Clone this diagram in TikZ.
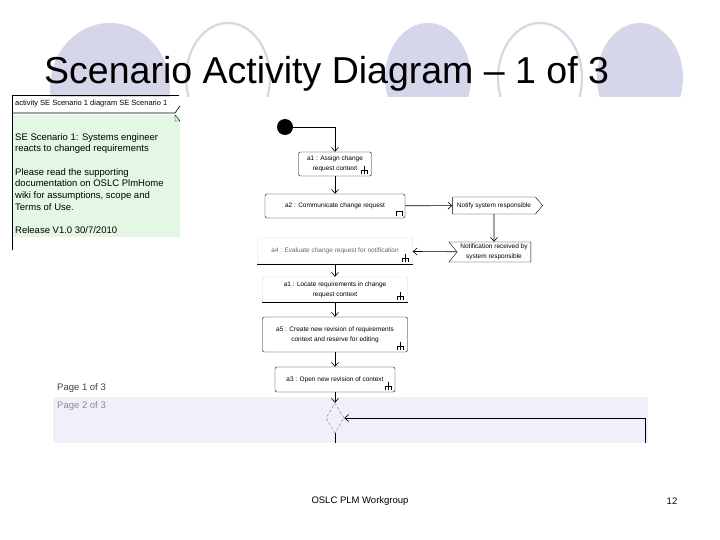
\documentclass[tikz,border=0pt]{standalone}
\usepackage{fontspec}
\setmainfont{Liberation Sans}
\usetikzlibrary{arrows.meta, shapes.geometric, shapes.symbols}
\definecolor{lav}{RGB}{214, 214, 235}
\definecolor{lavring}{RGB}{214, 214, 228}
\definecolor{band}{RGB}{240, 240, 250}
\definecolor{notegreen}{RGB}{228, 247, 228}
\definecolor{pagedark}{gray}{0.25}
\definecolor{pagelight}{gray}{0.55}

\begin{document}
\begin{tikzpicture}[x=1pt, y=-1pt,
  act/.style={draw, rounded corners=2pt, inner sep=1pt, align=center,
    font=\fontsize{6.5}{10}\selectfont},
  dimact/.style={act, draw=gray!35},
  sig/.style={signal, draw, inner sep=1pt, align=center, signal pointer angle=100,
    font=\fontsize{6.5}{10}\selectfont},
  flow/.style={-{Straight Barb[length=4pt, width=7pt]}, line width=0.6pt},
  icon/.style={line width=0.5pt}]
  \useasboundingbox (0, 0) rectangle (720, 540);

  % slide decoration
  \begin{scope}
    \clip (0, 0) rectangle (720, 97);
    \fill[lav] (110, 88) ellipse [x radius=60, y radius=65];
    \draw[lavring, line width=2.2pt] (228, 78) ellipse [x radius=42, y radius=55];
    \fill[lav] (428, 78) ellipse [x radius=43, y radius=55];
    \draw[lavring, line width=2.2pt] (540, 78) ellipse [x radius=42, y radius=55];
    \fill[lav] (640, 78) ellipse [x radius=43, y radius=55];
  \end{scope}

  \node[anchor=base west, inner sep=0, font=\fontsize{37.5}{40}\selectfont] (title)
    at (44, 84) {Scenario Activity Diagram – 1 of 3};

  % page band
  \fill[band] (53, 397) rectangle (648, 443);
  \node[anchor=base west, inner sep=0, text=pagedark, font=\fontsize{9.5}{11}\selectfont]
    (page1) at (57, 390) {Page 1 of 3};
  \node[anchor=base west, inner sep=0, text=pagelight, font=\fontsize{9.5}{11}\selectfont]
    (page2) at (57, 408) {Page 2 of 3};

  % frame and note
  \fill[notegreen] (13, 115) rectangle (180, 237);
  \draw[line width=0.6pt] (12, 250) -- (12, 95) -- (179, 95);
  \draw[line width=0.6pt] (12, 113) -- (175, 113) -- (180, 106);
  \draw[line width=0.4pt] (175, 115) -- (175, 121) -- (180, 121) -- cycle;
  \node[anchor=base west, inner sep=0, font=\fontsize{7.5}{8}\selectfont] (header)
    at (15, 106) {activity SE Scenario 1 diagram SE Scenario 1};
  \node[anchor=north west, inner sep=0, align=left, font=\fontsize{9.5}{11.7}\selectfont]
    (note) at (15, 133) {SE Scenario 1: Systems engineer\\
    reacts to changed requirements\\[11.7pt]
    Please read the supporting\\
    documentation on OSLC PlmHome\\
    wiki for assumptions, scope and\\
    Terms of Use.\\[11.7pt]
    Release V1.0 30/7/2010};

  % activity nodes
  \node[circle, fill=black, minimum size=16pt, inner sep=0] (start) at (285, 127) {};
  \node[act, minimum width=73, minimum height=24] (assign) at (335, 164)
    {a1 : Assign change\\request context};
  \node[act, minimum width=140, minimum height=24] (communicate) at (335, 206)
    {a2 : Communicate change request};
  \node[sig, signal to=east, minimum width=90, minimum height=17] (notify) at (494, 205.5)
    {Notify system responsible};
  \node[sig, signal to=nowhere, signal from=west, minimum width=82, minimum height=20]
    (received) at (494, 252) {Notification received by\\system responsible};
  \node[dimact, text=black!60, minimum width=155, minimum height=26] (evaluate) at (335, 251)
    {a4 : Evaluate change request for notification};
  \node[dimact, minimum width=145, minimum height=25] (locate) at (335, 289.5)
    {a1 : Locate requirements in change\\request context};
  \node[act, minimum width=145, minimum height=35] (revise) at (335, 334.5)
    {a5 : Create new revision of requirements\\context and reserve for editing};
  \node[act, minimum width=120, minimum height=25] (open) at (335, 379.5)
    {a3 : Open new revision of context};
  \node[diamond, draw=gray, densely dashed, minimum width=18, minimum height=30,
    inner sep=0] (merge) at (335, 418) {};
  \coordinate (mergeout) at (335, 443);
  \coordinate (loopin) at (645, 443);

  \draw[line width=0.6pt] (evaluate.south west) -- (evaluate.south east);
  \draw[line width=0.6pt] (locate.south west) -- (locate.south east);

  % call behaviour marks
  \foreach \n in {assign, evaluate, locate, revise, open}
    \draw[icon] ([shift={(-7, -2)}]\n.south east) -- ++(0, -8) ++(-3, 4) -- ++(6, 0)
      ++(-6, 0) -- ++(0, 4) ++(6, -4) -- ++(0, 4);
  \draw[icon] ([shift={(-9, -2)}]communicate.south east) -- ++(0, -5) -- ++(6, 0) -- ++(0, 5);

  % flows
  \draw[flow] (start) -| (assign);
  \draw[flow] (assign) -- (communicate);
  \draw[flow] (communicate) -- (notify);
  \draw[flow] (notify) -- (received);
  \draw[flow] (received) -- (evaluate);
  \draw[flow] (evaluate) -- (locate);
  \draw[flow] (locate) -- (revise);
  \draw[flow] (revise) -- (open);
  \draw[flow] (open) -- (merge);
  \draw[line width=0.6pt] (merge) -- (mergeout);
  \draw[flow] (loopin) |- (merge);

  % footer
  \node[font=\fontsize{9.5}{11}\selectfont] (footer) at (360, 501) {OSLC PLM Workgroup};
  \node[font=\fontsize{9.5}{11}\selectfont] (pagenum) at (672, 501) {12};
\end{tikzpicture}
\end{document}
